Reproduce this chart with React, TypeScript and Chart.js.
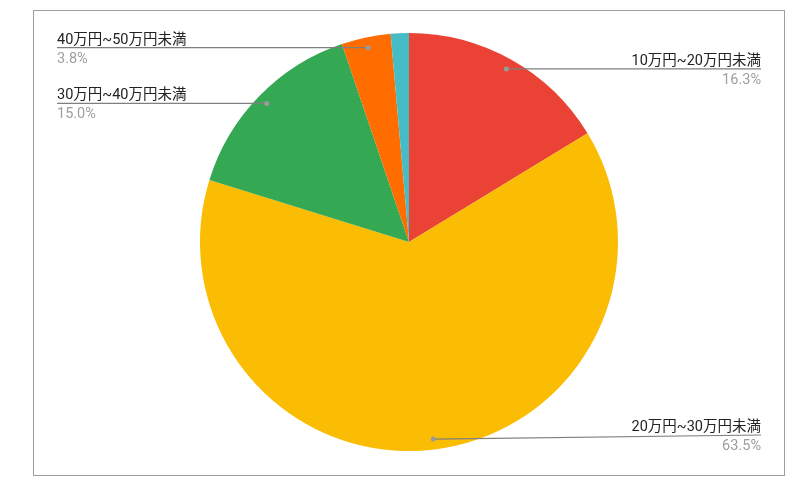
import React, { useEffect, useRef } from 'react';
import { Chart, registerables, Plugin } from 'chart.js';

Chart.register(...registerables);

const categories = ['10万円~20万円未満', '20万円~30万円未満', '30万円~40万円未満', '40万円~50万円未満', '50万円以上'];
const shares = [16.3, 63.5, 15.0, 3.8, 1.4];
const colors = ['#EA4335', '#FBBC04', '#34A853', '#FF6D01', '#46BDC6'];
// slices smaller than this get no callout
const minLabelShare = 2;

const FONT = "Roboto, 'Noto Sans CJK JP', sans-serif";

const calloutPlugin: Plugin<'pie'> = {
  id: 'callouts',
  afterDraw(chart) {
    const { ctx, chartArea } = chart;
    const meta = chart.getDatasetMeta(0);
    ctx.save();
    meta.data.forEach((el: any, i) => {
      if (shares[i] < minLabelShare) return;
      const mid = (el.startAngle + el.endAngle) / 2;
      const r = el.outerRadius * 0.95;
      const dx = el.x + Math.cos(mid) * r;
      const dy = el.y + Math.sin(mid) * r;
      const right = Math.cos(mid) >= 0;
      const ly = Math.min(dy, chartArea.bottom - 16);
      const lx = right ? 761 : 57;

      ctx.strokeStyle = '#7f7f7f';
      ctx.lineWidth = 1.2;
      ctx.beginPath();
      ctx.moveTo(dx, dy);
      ctx.lineTo(lx, ly);
      ctx.stroke();

      ctx.fillStyle = '#9a9a9a';
      ctx.beginPath();
      ctx.arc(dx, dy, 2.5, 0, Math.PI * 2);
      ctx.fill();

      ctx.textAlign = right ? 'right' : 'left';
      ctx.textBaseline = 'alphabetic';
      ctx.font = `14.5px ${FONT}`;
      ctx.fillStyle = '#222222';
      ctx.fillText(categories[i], lx, ly - 4);
      ctx.fillStyle = '#9e9e9e';
      ctx.fillText(`${shares[i].toFixed(1)}%`, lx, ly + 15);
    });
    ctx.restore();
  },
};

export default function App() {
  const canvasRef = useRef<HTMLCanvasElement>(null);
  const chartRef = useRef<Chart | null>(null);

  useEffect(() => {
    if (!canvasRef.current) return;
    if (chartRef.current) chartRef.current.destroy();

    chartRef.current = new Chart(canvasRef.current, {
      type: 'pie',
      data: {
        labels: categories,
        datasets: [{
          data: shares,
          backgroundColor: colors,
          borderWidth: 0,
        }],
      },
      options: {
        responsive: true,
        maintainAspectRatio: false,
        animation: false,
        layout: { padding: { top: 33, bottom: 34, left: 150, right: 143 } },
        plugins: {
          legend: { display: false },
          tooltip: { enabled: false },
        },
      },
      plugins: [calloutPlugin],
    });

    return () => {
      if (chartRef.current) {
        chartRef.current.destroy();
        chartRef.current = null;
      }
    };
  }, []);

  return (
    <div style={{ position: 'fixed', left: 0, top: 0, width: 811, height: 485, background: '#fff' }}>
      <div style={{ position: 'absolute', left: 33, top: 10, width: 750, height: 464, border: '1px solid #9e9e9e' }} />
      <div style={{ position: 'absolute', left: 0, top: 0, width: 811, height: 485 }}>
        <canvas ref={canvasRef} />
      </div>
    </div>
  );
}
